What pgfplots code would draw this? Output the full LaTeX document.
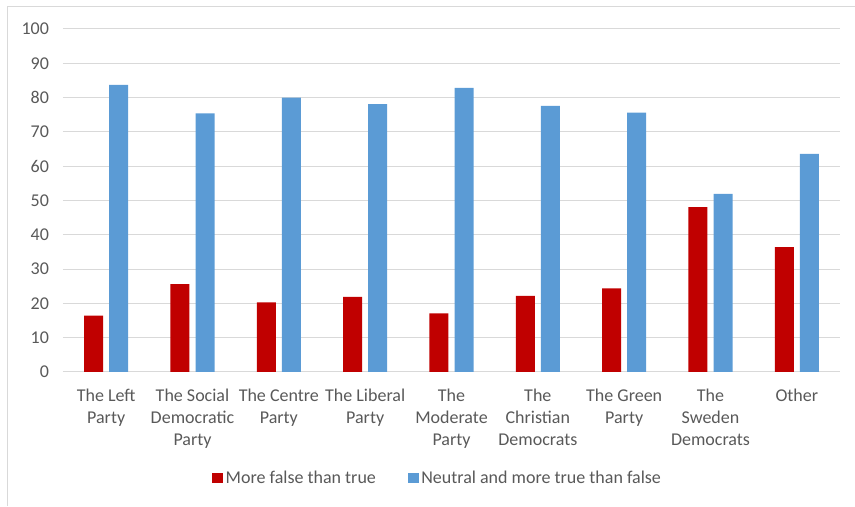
\documentclass[border=0pt]{standalone}
\usepackage{fontspec}
\setmainfont{Carlito}
\usepackage{pgfplots}
\pgfplotsset{compat=1.18}
\definecolor{barred}{HTML}{C00000}
\definecolor{barblue}{HTML}{5B9BD5}
\definecolor{gridgray}{HTML}{D9D9D9}
\definecolor{txtgray}{HTML}{595959}
\begin{document}
\begin{tikzpicture}[x=1pt,y=1pt]
\useasboundingbox (0,0) rectangle (641.25,379.5);
\draw[gridgray, line width=0.75pt] (5.25,0) -- (5.25,374.25) -- (641.25,374.25);
\begin{axis}[
  at={(47.25pt,100.5pt)}, anchor=south west,
  scale only axis, width=582.75pt, height=257.25pt,
  xmin=-0.5, xmax=8.5, ymin=0, ymax=100,
  ytick={0,10,...,100},
  xtick={0,...,8},
  /pgf/number format/assume math mode=true,
  xticklabels={{The Left\\Party},{The Social\\Democratic\\Party},{The Centre\\Party},{The Liberal\\Party},{The\\Moderate\\Party},{The\\Christian\\Democrats},{The Green\\Party},{The\\Sweden\\Democrats},{Other}},
  ymajorgrids, grid style={gridgray, line width=0.75pt},
  axis line style={draw=none},
  major tick length=0pt,
  tick label style={font=\fontsize{13.5}{16.5}\selectfont, text=txtgray},
  yticklabel style={xshift=-7pt},
  xticklabel style={align=center, yshift=-9.5pt},
  legend style={at={(0.4826,-0.309)}, anchor=center, draw=none, legend columns=2,
    font=\fontsize{13.5}{16}\selectfont, text=txtgray,
    /tikz/every even column/.append style={column sep=22pt}},
  legend image code/.code={\fill[#1] (0pt,-4pt) rectangle (8pt,4pt);},
]
\addplot[ybar, fill=barred, draw=none, bar width=14.25pt, bar shift=-9.4pt] coordinates {
(0,16.4) (1,25.6) (2,20.3) (3,21.9) (4,17.1) (5,22.2) (6,24.4) (7,48.1) (8,36.4)};
\addlegendentry{More false than true}
\addplot[ybar, fill=barblue, draw=none, bar width=14.25pt, bar shift=9.4pt] coordinates {
(0,83.7) (1,75.4) (2,80.0) (3,78.1) (4,82.8) (5,77.6) (6,75.6) (7,51.9) (8,63.6)};
\addlegendentry{Neutral and more true than false}
\end{axis}
\end{tikzpicture}
\end{document}
